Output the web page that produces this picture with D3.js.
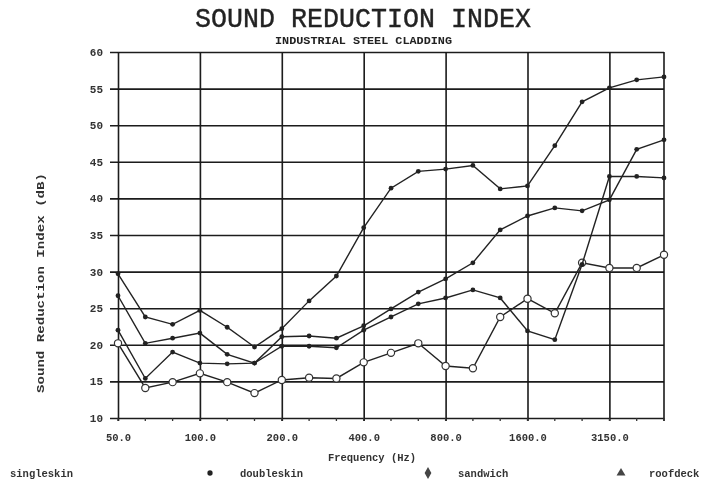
<!DOCTYPE html>
<html>
<head>
<meta charset="utf-8">
<script src="https://cdn.jsdelivr.net/npm/d3@7"></script>
<style>
  html, body { margin: 0; padding: 0; background: #fff; }
  svg { display: block; }
  .mono { font-family: "Liberation Mono", "DejaVu Sans Mono", monospace; }
</style>
</head>
<body>
<svg id="chart" width="712" height="489"></svg>
<script>
// One-third octave band centre frequencies (Hz)
const frequencies = [50, 63, 80, 100, 125, 160, 200, 250, 315, 400, 500, 630,
                     800, 1000, 1250, 1600, 2000, 2500, 3150, 4000, 5000];
// Labelled bands on the frequency axis
const freqTickValues = [50, 100, 200, 400, 800, 1600, 3150];
// Sound reduction index ticks (dB)
const sriTickValues = [10, 15, 20, 25, 30, 35, 40, 45, 50, 55, 60];

// Sound reduction index per band (dB)
const singleskin = [20.2, 14.1, 14.9, 16.1, 14.9, 13.4, 15.2, 15.5, 15.4, 17.6, 18.9, 20.2,
                    17.1, 16.8, 23.8, 26.3, 24.3, 31.2, 30.5, 30.5, 32.3];
const doubleskin = [29.7, 23.8, 22.8, 24.7, 22.4, 19.7, 22.2, 26.0, 29.4, 36.0, 41.4, 43.7,
                    44.0, 44.5, 41.3, 41.7, 47.2, 53.2, 55.1, 56.2, 56.6];
const sandwich   = [26.7, 20.2, 20.9, 21.6, 18.7, 17.5, 21.1, 21.2, 20.9, 22.6, 24.9, 27.2,
                    29.0, 31.2, 35.7, 37.6, 38.7, 38.3, 39.8, 46.7, 48.0];
const roofdeck   = [22.0, 15.4, 19.0, 17.5, 17.4, 17.5, 19.8, 19.8, 19.6, 22.0, 23.8, 25.6,
                    26.4, 27.5, 26.4, 21.9, 20.7, 31.0, 43.0, 43.0, 42.8];

const seriesNames = ["singleskin", "doubleskin", "sandwich", "roofdeck"];
const seriesValues = [singleskin, doubleskin, sandwich, roofdeck];

const svg = d3.select("#chart");

// soft print look
const defs = svg.append("defs");
defs.append("filter").attr("id", "soft")
  .append("feGaussianBlur").attr("stdDeviation", 0.45);

const root = svg.append("g").attr("filter", "url(#soft)");

const plotLeft = 118, plotRight = 664, plotTop = 52, plotBottom = 418;

const x = d3.scalePoint().domain(frequencies).range([plotLeft, plotRight]).padding(0);
const y = d3.scaleLinear().domain([10, 60]).range([plotBottom, plotTop]);

// Title block
root.append("text").attr("class", "mono")
  .attr("x", 195).attr("y", 27)
  .attr("textLength", 336).attr("lengthAdjust", "spacingAndGlyphs")
  .attr("font-size", 27).attr("fill", "#222")
  .attr("stroke", "#222").attr("stroke-width", 0.4)
  .text("SOUND REDUCTION INDEX");

root.append("text").attr("class", "mono")
  .attr("x", 275).attr("y", 44)
  .attr("textLength", 177).attr("lengthAdjust", "spacingAndGlyphs")
  .attr("font-size", 10.5).attr("font-weight", "bold").attr("fill", "#222")
  .text("INDUSTRIAL STEEL CLADDING");

// Horizontal grid + value labels
const yAxis = root.append("g")
  .attr("transform", `translate(${plotLeft},0)`)
  .call(d3.axisLeft(y).tickValues(sriTickValues).tickSize(-(plotRight - plotLeft))
        .tickPadding(15).tickFormat(d3.format("d")));
yAxis.select(".domain").remove();
yAxis.selectAll(".tick line")
  .attr("x1", -8).attr("stroke", "#1a1a1a").attr("stroke-width", 1.6);
yAxis.selectAll(".tick text")
  .attr("class", "mono").attr("font-size", 11).attr("font-weight", "bold")
  .attr("fill", "#333");

// Vertical grid + frequency labels
const xAxis = root.append("g")
  .attr("transform", `translate(0,${plotBottom})`)
  .call(d3.axisBottom(x).tickValues(freqTickValues).tickSize(-(plotBottom - plotTop))
        .tickPadding(16).tickFormat(d3.format(".1f")));
xAxis.select(".domain").remove();
xAxis.selectAll(".tick line")
  .attr("y1", 3).attr("stroke", "#1a1a1a").attr("stroke-width", 1.6);
xAxis.selectAll(".tick text")
  .attr("class", "mono").attr("font-size", 10.5).attr("font-weight", "bold")
  .attr("fill", "#333");

// Right-hand border
root.append("line")
  .attr("x1", x(5000)).attr("x2", x(5000))
  .attr("y1", plotTop).attr("y2", plotBottom + 3)
  .attr("stroke", "#1a1a1a").attr("stroke-width", 1.6);

// Minor ticks at every band
root.append("g").selectAll("line").data(frequencies).join("line")
  .attr("x1", d => x(d)).attr("x2", d => x(d))
  .attr("y1", plotBottom).attr("y2", plotBottom + 3)
  .attr("stroke", "#333").attr("stroke-width", 1.3);

// Axis titles
root.append("text").attr("class", "mono")
  .attr("transform", "translate(44,283) rotate(-90)")
  .attr("text-anchor", "middle")
  .attr("textLength", 220).attr("lengthAdjust", "spacingAndGlyphs")
  .attr("font-size", 11).attr("font-weight", "bold").attr("fill", "#333")
  .text("Sound Reduction Index (dB)");

root.append("text").attr("class", "mono")
  .attr("x", 372).attr("y", 461).attr("text-anchor", "middle")
  .attr("font-size", 10.5).attr("font-weight", "bold").attr("fill", "#333")
  .text("Frequency (Hz)");

// Curves
const line = d3.line()
  .x((d, i) => x(frequencies[i]))
  .y(d => y(d));

seriesValues.forEach((vals, si) => {
  const g = root.append("g");
  g.append("path")
    .datum(vals)
    .attr("d", line)
    .attr("fill", "none")
    .attr("stroke", "#222")
    .attr("stroke-width", 1.4);
  const pts = g.selectAll("circle").data(vals).join("circle")
    .attr("cx", (d, i) => x(frequencies[i]))
    .attr("cy", d => y(d));
  if (si === 0) {
    pts.attr("r", 3.6).attr("fill", "#fff").attr("stroke", "#333").attr("stroke-width", 1.2);
  } else {
    pts.attr("r", 2.4).attr("fill", "#222");
  }
});

// Legend
const legendY = 477;
root.append("text").attr("class", "mono")
  .attr("x", 10).attr("y", legendY)
  .attr("font-size", 10.5).attr("font-weight", "bold").attr("fill", "#333")
  .text(seriesNames[0]);

const legendItems = [
  { name: seriesNames[1], mx: 210, tx: 240, sym: d3.symbolCircle, size: 22, fill: "#222" },
  { name: seriesNames[2], mx: 428, tx: 458, sym: d3.symbolDiamond, size: 40, fill: "#444" },
  { name: seriesNames[3], mx: 621, tx: 649, sym: d3.symbolTriangle, size: 34, fill: "#444" }
];
legendItems.forEach(it => {
  root.append("path")
    .attr("transform", `translate(${it.mx},${legendY - 4})`)
    .attr("d", d3.symbol().type(it.sym).size(it.size)())
    .attr("fill", it.fill);
  root.append("text").attr("class", "mono")
    .attr("x", it.tx).attr("y", legendY)
    .attr("font-size", 10.5).attr("font-weight", "bold").attr("fill", "#333")
    .text(it.name);
});
</script>
</body>
</html>
